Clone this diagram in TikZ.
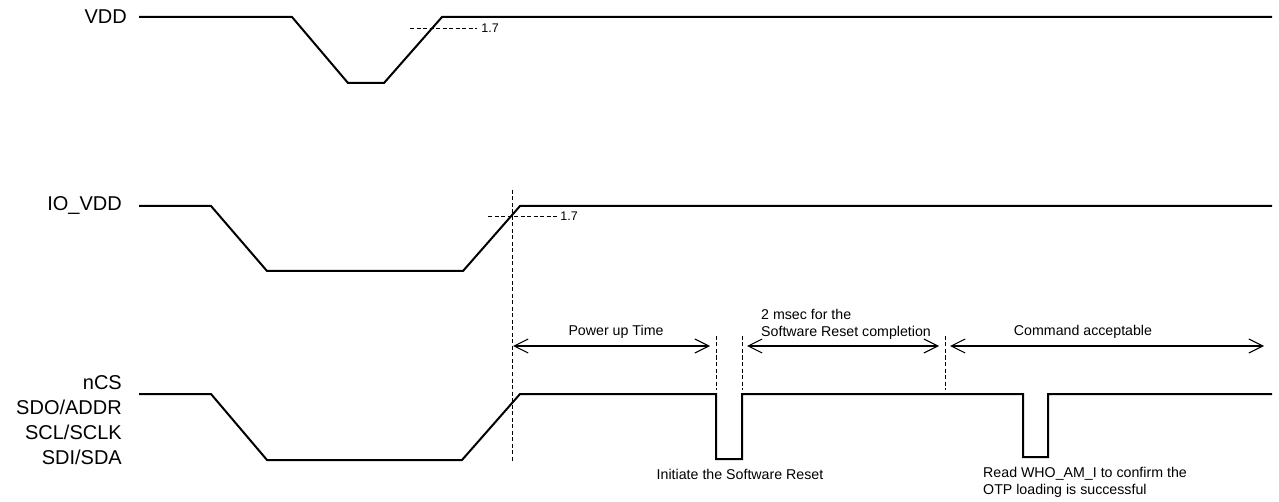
\documentclass[tikz,border=0pt]{standalone}
\usepackage{fontspec}
\setmainfont{Liberation Sans}
\usetikzlibrary{arrows.meta,positioning}

\begin{document}
\begin{tikzpicture}[
  x=1pt, y=-1pt,
  wave/.style={line width=2pt, line join=miter},
  guide/.style={line width=0.9pt, dash pattern=on 4pt off 2.5pt},
  span/.style={{Straight Barb[length=14pt,width=14pt]}-{Straight Barb[length=14pt,width=14pt]}, line width=1.1pt},
  sig/.style={anchor=east, align=right, inner sep=0pt, font=\fontsize{20}{25}\selectfont},
  note/.style={inner sep=0pt, font=\fontsize{14.2}{17}\selectfont},
  level/.style={anchor=west, inner sep=0pt, font=\fontsize{12.5}{14}\selectfont}
]
\useasboundingbox (0,0) rectangle (1279,502);

\node[sig] (vdd) at (127,17) {VDD};
\node[sig] (iovdd) at (122,206) {IO\_VDD};
\node[sig] (bus) at (122,420) {nCS\\SDO/ADDR\\SCL/SCLK\\SDI/SDA};

% waveforms
\draw[wave] (139,17) -- (292,17) -- (348,83) -- (384,83) -- (442,17) -- (1272,17);
\draw[wave] (139,206) -- (211,206) -- (267,271) -- (463,271) -- (520,206) -- (1272,206);
\draw[wave] (139,394) -- (211,394) -- (267,460) -- (462,460) -- (520,394)
  -- (716,394) -- (716,459) -- (742,459) -- (742,394)
  -- (1023,394) -- (1023,457) -- (1048,457) -- (1048,394) -- (1272,394);

% 1.7 thresholds
\draw[guide] (410,28) -- (477,28) node[level] (thvdd) at (481,28) {1.7};
\draw[guide] (488,216) -- (557,216) node[level] (thio) at (560,216) {1.7};

% markers
\draw[guide] (512,190) -- (512,462);
\foreach \tx in {716,742,945}
  \draw[guide] (\tx,336) -- (\tx,390);

\coordinate (pwrL) at (513,346);
\coordinate (pwrR) at (710,346);
\coordinate (rstL) at (747,346);
\coordinate (rstR) at (939,346);
\coordinate (cmdL) at (950,346);
\coordinate (cmdR) at (1264,346);
\draw[span] (pwrL) -- (pwrR);
\draw[span] (rstL) -- (rstR);
\draw[span] (cmdL) -- (cmdR);

\node[note] (pwr) at (616,332) {Power up Time};
\node[note, anchor=west, align=left] (rst) at (761,324) {2 msec for the\\Software Reset completion};
\node[note] (cmd) at (1083,332) {Command acceptable};
\node[note] (init) at (740,474) {Initiate the Software Reset};
\node[note, anchor=west, align=left] (read) at (983,482) {Read WHO\_AM\_I to confirm the\\OTP loading is successful};
\end{tikzpicture}
\end{document}
